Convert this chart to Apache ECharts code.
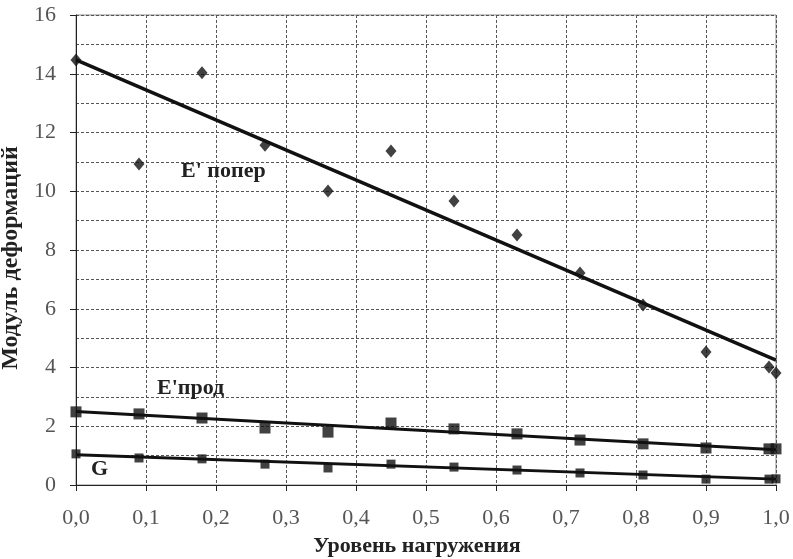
<!DOCTYPE html>
<html><head><meta charset="utf-8">
<script src="https://cdn.jsdelivr.net/npm/echarts@6/dist/echarts.min.js"></script>
<style>html,body{margin:0;padding:0;background:#fff}#c{width:793px;height:559px}</style>
</head><body><div id="c"></div>
<script>
var xPoper = [0, 0.09, 0.18, 0.27, 0.36, 0.45, 0.54, 0.63, 0.72, 0.81, 0.90, 0.99, 1.0];
var ePoper = [14.47, 10.93, 14.03, 11.57, 10.01, 11.37, 9.67, 8.51, 7.22, 6.13, 4.53, 4.02, 3.81];
var xProd = [0, 0.09, 0.18, 0.27, 0.36, 0.45, 0.54, 0.63, 0.72, 0.81, 0.90, 0.99, 1.0];
var eProd = [2.49, 2.42, 2.28, 1.94, 1.80, 2.11, 1.91, 1.74, 1.53, 1.40, 1.26, 1.23, 1.23];
var gVals = [1.06, 0.92, 0.89, 0.71, 0.58, 0.71, 0.61, 0.51, 0.41, 0.34, 0.20, 0.20, 0.21];
var trendX = [0, 1.0];
var trendPoper = [14.47, 4.25];
var trendProd = [2.50, 1.20];
var trendG = [1.03, 0.20];
var xTitle = 'Уровень нагружения';
var yTitle = 'Модуль деформаций';
var labelPoper = "E' попер";
var labelProd = "E'прод";
var labelG = 'G';

function pairs(xs, ys){ return xs.map(function(x,i){ return [x, ys[i]]; }); }
var serif = '"Liberation Serif","DejaVu Serif",serif';
var chart = echarts.init(document.getElementById('c'), null, {renderer:'canvas'});
var lineCol = '#111';
chart.setOption({
  animation:false,
  backgroundColor:'#fff',
  grid:{left:76,right:17,top:15,bottom:74,containLabel:false,outerBoundsMode:'none',
    show:true,borderColor:'#8a8a8a',borderWidth:1},
  xAxis:{type:'value',min:0,max:1,interval:0.1,
    name:xTitle,nameLocation:'middle',nameGap:50,
    nameTextStyle:{fontFamily:serif,fontWeight:'bold',fontSize:22,color:'#222',padding:[0,18,0,0]},
    axisLine:{show:true,lineStyle:{color:'#222',width:1}},
    axisTick:{show:true,length:6,lineStyle:{color:'#222'}},
    axisLabel:{margin:22,fontFamily:serif,fontSize:22,color:'#555',
      formatter:function(v){return v.toFixed(1).replace('.',',');}},
    splitLine:{show:true,lineStyle:{color:'#555',type:[3,2],width:1}}
  },
  yAxis:{type:'value',min:0,max:16,interval:2,
    name:yTitle,nameLocation:'middle',nameGap:44,
    nameTextStyle:{fontFamily:serif,fontWeight:'bold',fontSize:24,color:'#222',padding:[0,16,0,0]},
    axisLine:{show:true,lineStyle:{color:'#222',width:1}},
    axisTick:{show:true,length:6,lineStyle:{color:'#222'}},
    axisLabel:{margin:20,fontFamily:serif,fontSize:22,color:'#555'},
    splitLine:{show:true,lineStyle:{color:'#555',type:[3,2],width:1}},
    minorTick:{show:false,splitNumber:2},
    minorSplitLine:{show:true,lineStyle:{color:'#555',type:[3,2],width:1}}
  },
  series:[
    {type:'line',data:pairs(trendX,trendPoper),symbol:'none',lineStyle:{color:lineCol,width:3.5},z:3},
    {type:'line',data:pairs(trendX,trendProd),symbol:'none',lineStyle:{color:lineCol,width:3},z:3},
    {type:'line',data:pairs(trendX,trendG),symbol:'none',lineStyle:{color:lineCol,width:3},z:3},
    {type:'scatter',data:pairs(xPoper,ePoper),symbol:'diamond',symbolSize:[11,13],itemStyle:{color:lineCol},z:4},
    {type:'scatter',data:pairs(xProd,eProd),symbol:'rect',symbolSize:11,itemStyle:{color:lineCol},z:4},
    {type:'scatter',data:pairs(xProd,gVals),symbol:'rect',symbolSize:9,itemStyle:{color:lineCol},z:4}
  ],
  graphic:[
    {type:'text',left:181,top:160,z:10,style:{text:labelPoper,font:'bold 22px '+serif,fill:'#222'}},
    {type:'text',left:157,top:377,z:10,style:{text:labelProd,font:'bold 22px '+serif,fill:'#222'}},
    {type:'text',left:91,top:458,z:10,style:{text:labelG,font:'bold 22px '+serif,fill:'#222'}}
  ]
});
</script></body></html>
